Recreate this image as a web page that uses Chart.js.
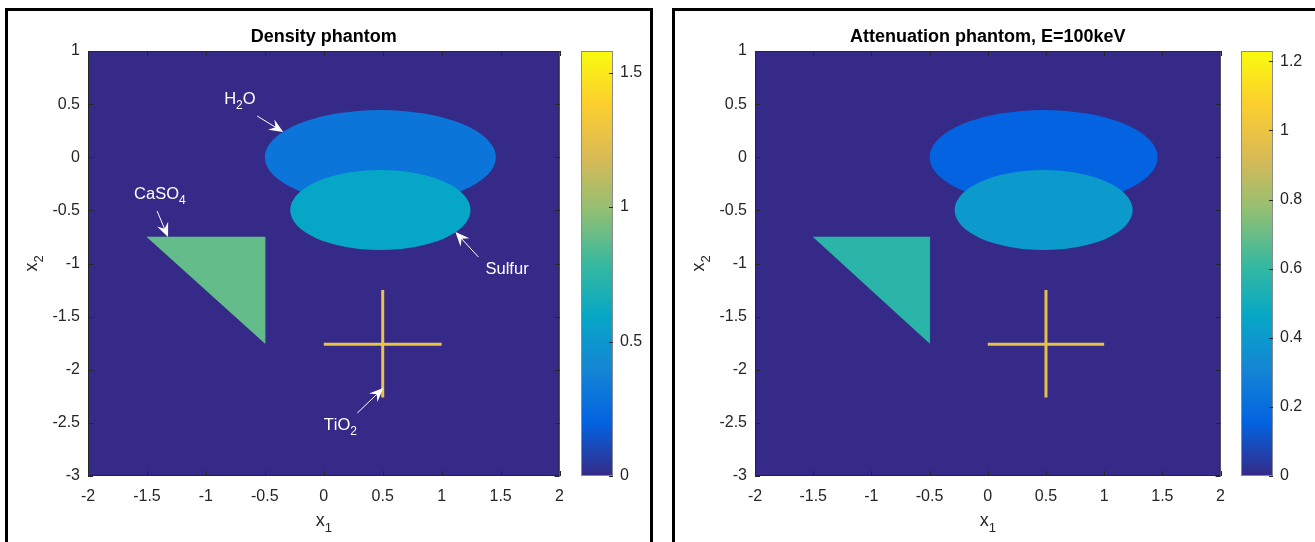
<!DOCTYPE html>
<html>
<head>
<meta charset="utf-8">
<script src="https://cdn.jsdelivr.net/npm/chart.js@4.4.0/dist/chart.umd.min.js"></script>
<style>
  html, body { margin:0; padding:0; background:#fff; }
  body { width:1315px; height:542px; position:relative; overflow:hidden; }
  .frame { position:absolute; border:3px solid #000; box-sizing:border-box; }
  canvas { position:absolute; top:0; }
</style>
</head>
<body>
<div class="frame" style="left:5px; top:8px; width:648px; height:600px;"></div>
<div class="frame" style="left:672px; top:8px; width:700px; height:600px;"></div>
<canvas id="densPlot" width="575" height="542" style="left:0px"></canvas>
<canvas id="densBar" width="80" height="542" style="left:570px"></canvas>
<canvas id="attPlot" width="576" height="542" style="left:660px"></canvas>
<canvas id="attBar" width="85" height="542" style="left:1230px"></canvas>
<script>
// material values
const materials = ['H2O', 'Sulfur', 'CaSO4', 'TiO2'];
const densityValues = [0.30, 0.59, 0.885, 1.28];
const attenValues = [0.155, 0.40, 0.575, 0.98];
const densityMax = 1.58;
const attenMax = 1.23;

// phantom geometry, in x1/x2 units
const h2oEllipse = [0.48, 0.0, 0.98, 0.445];     // cx, cy, a, b
const sulfurEllipse = [0.48, -0.497, 0.765, 0.377];
const triX = [-1.5, -0.5, -0.5, -1.5];
const triY = [-0.75, -0.75, -1.75, -0.75];
const crossHX = [0, 1];
const crossHY = [-1.76, -1.76];
const crossVX = [0.5, 0.5];
const crossVY = [-1.25, -2.26];

const xTicks = { min: -2, max: 2, step: 0.5 };
const yTicks = { min: -3, max: 1, step: 0.5 };

// parula colormap stops
const parulaStops = ['#352a87','#0363e1','#1485d4','#06a7c6','#38b99e','#92bf73','#d9ba56','#fcce2e','#f9fb0e'];

const FONT = "'Liberation Sans', Arial, Helvetica, sans-serif";
const TXT = '#262626';

function hexRgb(h){ return [1,3,5].map(i=>parseInt(h.substr(i,2),16)); }
function parula(f){
  f = Math.max(0, Math.min(1, f));
  const p = f*(parulaStops.length-1), i = Math.min(Math.floor(p), parulaStops.length-2), t = p-i;
  const a = hexRgb(parulaStops[i]), b = hexRgb(parulaStops[i+1]);
  return 'rgb(' + a.map((v,k)=>Math.round(v+(b[k]-v)*t)).join(',') + ')';
}

// draw "H_2O" style text: char after _ is a subscript
function drawSubText(ctx, str, x, y, size, color){
  ctx.fillStyle = color;
  ctx.textBaseline = 'middle';
  ctx.textAlign = 'left';
  let cx = x;
  for (let i=0; i<str.length; i++){
    if (str[i]==='_'){
      i++;
      ctx.font = Math.round(size*0.72) + 'px ' + FONT;
      ctx.fillText(str[i], cx, y + size*0.42);
      cx += ctx.measureText(str[i]).width;
    } else {
      ctx.font = size + 'px ' + FONT;
      ctx.fillText(str[i], cx, y);
      cx += ctx.measureText(str[i]).width;
    }
  }
  return cx - x;
}
function subTextWidth(ctx, str, size){
  let w = 0;
  for (let i=0; i<str.length; i++){
    if (str[i]==='_'){ i++; ctx.font = Math.round(size*0.72)+'px '+FONT; }
    else ctx.font = size+'px '+FONT;
    w += ctx.measureText(str[i]).width;
  }
  return w;
}

function arrow(ctx, x1, y1, x2, y2){
  const ang = Math.atan2(y2-y1, x2-x1), L = 14, W = 6;
  ctx.strokeStyle = '#fff'; ctx.fillStyle = '#fff'; ctx.lineWidth = 1;
  ctx.beginPath(); ctx.moveTo(x1,y1); ctx.lineTo(x2 - Math.cos(ang)*L*0.6, y2 - Math.sin(ang)*L*0.6); ctx.stroke();
  ctx.beginPath();
  ctx.moveTo(x2, y2);
  ctx.lineTo(x2 - L*Math.cos(ang) + W*Math.sin(ang), y2 - L*Math.sin(ang) - W*Math.cos(ang));
  ctx.lineTo(x2 - L*0.65*Math.cos(ang), y2 - L*0.65*Math.sin(ang));
  ctx.lineTo(x2 - L*Math.cos(ang) - W*Math.sin(ang), y2 - L*Math.sin(ang) + W*Math.cos(ang));
  ctx.closePath(); ctx.fill();
}

function phantomPlugin(cfg){
  return {
    id: 'phantom',
    beforeDatasetsDraw(chart){
      const {ctx, chartArea:a, scales:{x, y}} = chart;
      ctx.save();
      ctx.fillStyle = parula(0);
      ctx.fillRect(a.left, a.top, a.right-a.left, a.bottom-a.top);
      cfg.ellipses.forEach(e=>{
        const cx = x.getPixelForValue(e.geom[0]), cy = y.getPixelForValue(e.geom[1]);
        const rx = Math.abs(x.getPixelForValue(e.geom[0]+e.geom[2]) - cx);
        const ry = Math.abs(y.getPixelForValue(e.geom[1]+e.geom[3]) - cy);
        ctx.fillStyle = e.color;
        ctx.beginPath(); ctx.ellipse(cx, cy, rx, ry, 0, 0, Math.PI*2); ctx.fill();
      });
      ctx.restore();
    },
    afterDatasetsDraw(chart){
      const {ctx, chartArea:a, scales:{x, y}} = chart;
      ctx.save();
      // annotations
      cfg.notes.forEach(n=>{
        drawSubText(ctx, n.text, x.getPixelForValue(n.x), y.getPixelForValue(n.y), 16.5, '#fff');
        arrow(ctx, x.getPixelForValue(n.arrow[0]), y.getPixelForValue(n.arrow[1]), x.getPixelForValue(n.arrow[2]), y.getPixelForValue(n.arrow[3]));
      });
      // box and inward ticks
      ctx.strokeStyle = TXT; ctx.lineWidth = 1;
      ctx.strokeRect(a.left+0.5, a.top+0.5, a.right-a.left-1, a.bottom-a.top-1);
      ctx.beginPath();
      x.ticks.forEach(t=>{
        const px = Math.round(x.getPixelForValue(t.value))+0.5;
        ctx.moveTo(px, a.bottom); ctx.lineTo(px, a.bottom-5);
        ctx.moveTo(px, a.top); ctx.lineTo(px, a.top+5);
      });
      y.ticks.forEach(t=>{
        const py = Math.round(y.getPixelForValue(t.value))+0.5;
        ctx.moveTo(a.left, py); ctx.lineTo(a.left+5, py);
        ctx.moveTo(a.right, py); ctx.lineTo(a.right-5, py);
      });
      ctx.stroke();
      // title
      const mid = (a.left+a.right)/2;
      ctx.fillStyle = '#000';
      ctx.font = 'bold 18px ' + FONT;
      ctx.textAlign = 'center'; ctx.textBaseline = 'middle';
      ctx.fillText(cfg.title, mid, 37);
      // axis labels
      const wx = subTextWidth(ctx, 'x_1', 18);
      drawSubText(ctx, 'x_1', mid - wx/2, a.bottom + 45, 18, TXT);
      ctx.translate(a.left - 56, (a.top+a.bottom)/2);
      ctx.rotate(-Math.PI/2);
      const wy = subTextWidth(ctx, 'x_2', 18);
      drawSubText(ctx, 'x_2', -wy/2, 0, 18, TXT);
      ctx.restore();
    }
  };
}

const tickFont = { family: FONT, size: 16 };
const fmt = v => String(+(+v).toFixed(2));

function makePlot(id, values, title, notes, yAxisW, padRight){
  const pts = (xs, ys) => xs.map((v,i)=>({x:v, y:ys[i]}));
  const vmax = values.max;
  const c = values.v.map(v=>parula(v/vmax));
  new Chart(document.getElementById(id), {
    type: 'scatter',
    data: {
      datasets: [
        { label: materials[2], data: pts(triX, triY), showLine: true, fill: 'shape', backgroundColor: c[2], borderColor: c[2], borderWidth: 0.5, pointRadius: 0 },
        { label: materials[3], data: pts(crossHX, crossHY), showLine: true, borderColor: c[3], borderWidth: 3, borderCapStyle: 'butt', pointRadius: 0 },
        { label: materials[3], data: pts(crossVX, crossVY), showLine: true, borderColor: c[3], borderWidth: 3, borderCapStyle: 'butt', pointRadius: 0 }
      ]
    },
    options: {
      responsive: false, animation: false,
      layout: { padding: { top: 51, right: padRight, bottom: 0, left: 0 } },
      plugins: { legend: { display: false }, tooltip: { enabled: false } },
      scales: {
        x: { type: 'linear', min: xTicks.min, max: xTicks.max,
             ticks: { stepSize: xTicks.step, font: tickFont, color: TXT, padding: 11, callback: fmt, includeBounds: false, maxRotation: 0 },
             grid: { display: false, drawTicks: false }, border: { display: false },
             afterFit: s => { s.height = 66; } },
        y: { type: 'linear', min: yTicks.min, max: yTicks.max,
             ticks: { stepSize: yTicks.step, font: tickFont, color: TXT, padding: 8, callback: fmt, includeBounds: false },
             grid: { display: false, drawTicks: false }, border: { display: false },
             afterFit: s => { s.width = yAxisW; } }
      }
    },
    plugins: [phantomPlugin({
      title, notes,
      ellipses: [ { geom: h2oEllipse, color: c[0] }, { geom: sulfurEllipse, color: c[1] } ]
    })]
  });
}

const cbFrame = {
  id: 'cbFrame',
  afterDatasetsDraw(chart){
    const {ctx, chartArea:a, scales:{y}} = chart;
    ctx.save();
    ctx.strokeStyle = '#8a8a8a'; ctx.lineWidth = 1;
    ctx.strokeRect(a.left+0.5, a.top+0.5, a.right-a.left-1, a.bottom-a.top-1);
    ctx.strokeStyle = TXT;
    ctx.beginPath();
    y.ticks.forEach(t=>{
      const py = Math.round(y.getPixelForValue(t.value))+0.5;
      ctx.moveTo(a.right, py); ctx.lineTo(a.right-4, py);
    });
    ctx.stroke();
    ctx.restore();
  }
};

function makeColorbar(id, max, step, axisW){
  new Chart(document.getElementById(id), {
    type: 'bar',
    data: { labels: [''], datasets: [{
      data: [max], borderWidth: 0, barPercentage: 1, categoryPercentage: 1,
      backgroundColor: ctx => {
        const a = ctx.chart.chartArea;
        if (!a) return parula(0);
        const g = ctx.chart.ctx.createLinearGradient(0, a.bottom, 0, a.top);
        parulaStops.forEach((s,i)=>g.addColorStop(i/(parulaStops.length-1), s));
        return g;
      }
    }]},
    options: {
      responsive: false, animation: false,
      layout: { padding: { top: 51, bottom: 66, left: 11, right: 0 } },
      plugins: { legend: { display: false }, tooltip: { enabled: false } },
      scales: {
        x: { display: false },
        y: { position: 'right', min: 0, max: max,
             ticks: { stepSize: step, font: tickFont, color: TXT, padding: 7, callback: fmt, includeBounds: false },
             grid: { display: false, drawTicks: false }, border: { display: false },
             afterFit: s => { s.width = axisW; } }
      }
    },
    plugins: [cbFrame]
  });
}

const densityNotes = [
  { text: 'H_2O', x: -0.845, y: 0.548, arrow: [-0.565, 0.388, -0.344, 0.238] },
  { text: 'CaSO_4', x: -1.609, y: -0.346, arrow: [-1.414, -0.506, -1.321, -0.751] },
  { text: 'Sulfur', x: 1.372, y: -1.052, arrow: [1.312, -0.939, 1.117, -0.704] },
  { text: 'TiO_2', x: 0.0, y: -2.52, arrow: [0.285, -2.407, 0.505, -2.172] }
];

makePlot('densPlot', { v: densityValues, max: densityMax }, 'Density phantom', densityNotes, 88, 0);
makeColorbar('densBar', densityMax, 0.5, 37);
makePlot('attPlot', { v: attenValues, max: attenMax }, 'Attenuation phantom, E=100keV', [], 95, 0);
makeColorbar('attBar', attenMax, 0.2, 42);
</script>
</body>
</html>
